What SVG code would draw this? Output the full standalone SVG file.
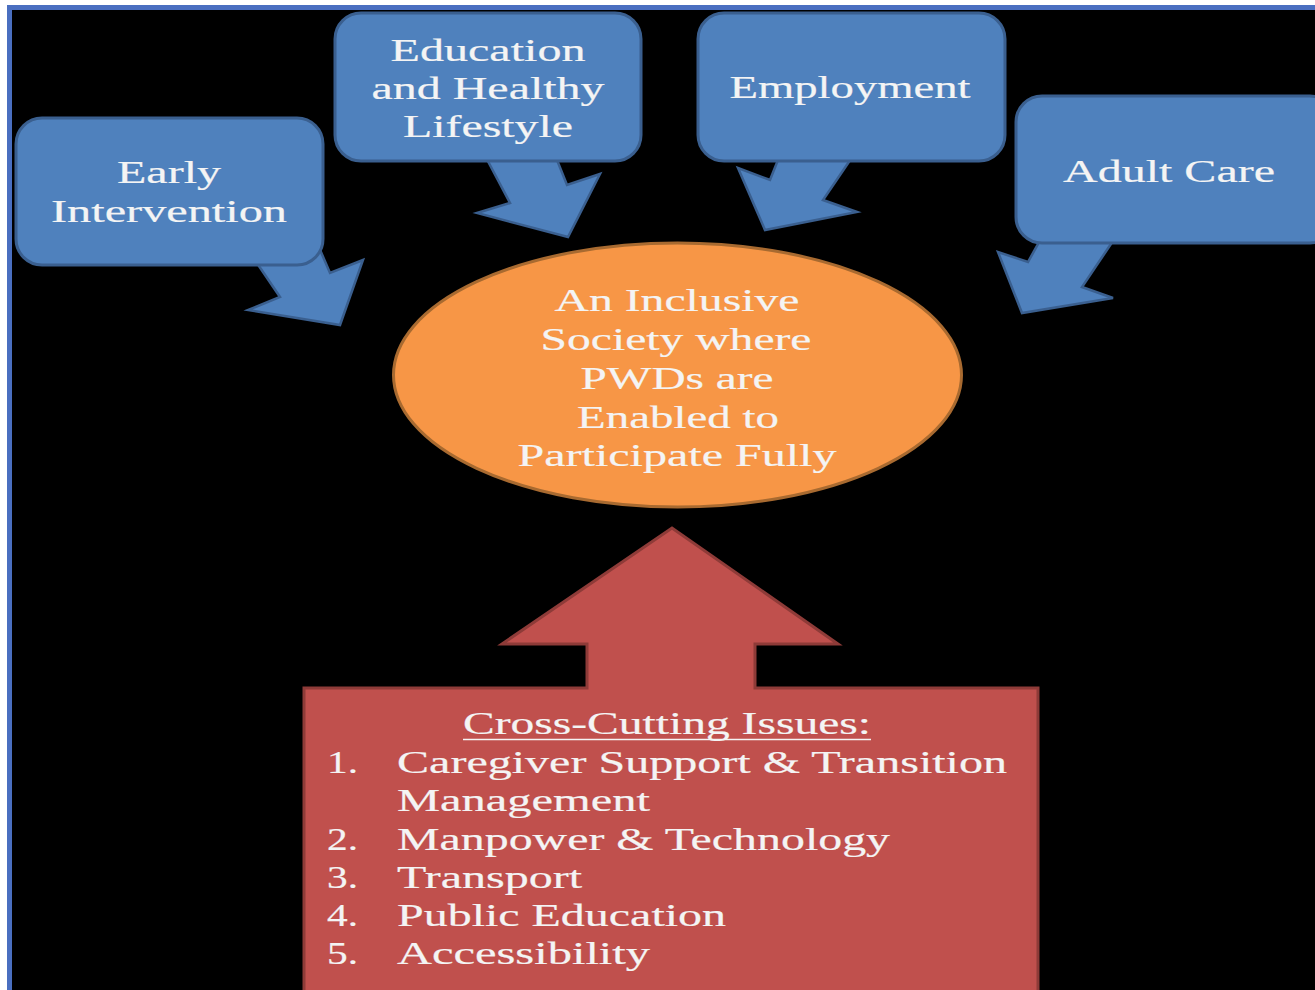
<svg xmlns="http://www.w3.org/2000/svg" width="1315" height="990" viewBox="0 0 1315 990">
<style>
.box{fill:#4F81BD;stroke:#3A5F8F;stroke-width:3}
.arr{fill:#4F81BD;stroke:#3A5F8F;stroke-width:2.5;stroke-linejoin:miter}
.t{font-family:"Liberation Serif","Times New Roman",serif;font-size:31px;fill:#F4F4F4;stroke:#F4F4F4;stroke-width:0.2}
.c{text-anchor:middle}
</style>
<rect x="0" y="0" width="1315" height="990" fill="#FFFFFF"/>
<rect x="7" y="5" width="1308" height="985" fill="#000000"/>
<path d="M9.5 990 V7.5 H1315" fill="none" stroke="#4A6FC0" stroke-width="5"/>
<g id="connectors">
<polygon class="arr" points="248,250 280,297 248,310 340,325 363,260 330,273 318,245"/>
<polygon class="arr" points="482,150 510,203 477,213 568,237 600,174 567,185 553,150"/>
<polygon class="arr" points="782,150 770,180 738,168 765,230 857,212 823,200 857,150"/>
<polygon class="arr" points="1043,235 1028,262 998,252 1022,313 1113,298 1082,287 1117,235"/>
</g>
<g id="early-intervention">
<rect class="box" x="16" y="118" width="307" height="147" rx="26"/>
<text class="t c" x="169" y="183" textLength="104" lengthAdjust="spacingAndGlyphs">Early</text>
<text class="t c" x="169" y="222" textLength="236" lengthAdjust="spacingAndGlyphs">Intervention</text>
</g>
<g id="education">
<rect class="box" x="335" y="13" width="306" height="148" rx="26"/>
<text class="t c" x="488" y="61" textLength="195" lengthAdjust="spacingAndGlyphs">Education</text>
<text class="t c" x="488" y="99" textLength="233" lengthAdjust="spacingAndGlyphs">and Healthy</text>
<text class="t c" x="488" y="137" textLength="170" lengthAdjust="spacingAndGlyphs">Lifestyle</text>
</g>
<g id="employment">
<rect class="box" x="698" y="13" width="307" height="148" rx="26"/>
<text class="t c" x="850" y="98" textLength="241" lengthAdjust="spacingAndGlyphs">Employment</text>
</g>
<g id="adult-care">
<rect class="box" x="1016" y="96" width="320" height="147" rx="26"/>
<text class="t c" x="1169" y="182" textLength="212" lengthAdjust="spacingAndGlyphs">Adult Care</text>
</g>
<g id="inclusive-society">
<ellipse cx="677.5" cy="375" rx="284" ry="132" fill="#F79646" stroke="#A86A30" stroke-width="3"/>
<text class="t c" x="677" y="311" textLength="245" lengthAdjust="spacingAndGlyphs">An Inclusive</text>
<text class="t c" x="676" y="350" textLength="271" lengthAdjust="spacingAndGlyphs">Society where</text>
<text class="t c" x="677" y="389" textLength="193" lengthAdjust="spacingAndGlyphs">PWDs are</text>
<text class="t c" x="678" y="428" textLength="202" lengthAdjust="spacingAndGlyphs">Enabled to</text>
<text class="t c" x="677" y="466" textLength="319" lengthAdjust="spacingAndGlyphs">Participate Fully</text>
</g>
<g id="cross-cutting-issues">
<polygon points="304,688 587,688 587,644 502,644 672,528 838,644 755,644 755,688 1038,688 1038,995 304,995" fill="#C0504D" stroke="#8E3B38" stroke-width="3"/>
<text class="t c" x="667" y="734" textLength="408" lengthAdjust="spacingAndGlyphs">Cross-Cutting Issues:</text>
<line x1="463" y1="739.5" x2="871" y2="739.5" stroke="#F4F4F4" stroke-width="1.6"/>
<text class="t" x="327" y="773" textLength="31" lengthAdjust="spacingAndGlyphs">1.</text>
<text class="t" x="397" y="773" textLength="610" lengthAdjust="spacingAndGlyphs">Caregiver Support &amp; Transition</text>
<text class="t" x="397" y="811" textLength="253" lengthAdjust="spacingAndGlyphs">Management</text>
<text class="t" x="327" y="850" textLength="31" lengthAdjust="spacingAndGlyphs">2.</text>
<text class="t" x="397" y="850" textLength="493" lengthAdjust="spacingAndGlyphs">Manpower &amp; Technology</text>
<text class="t" x="327" y="888" textLength="31" lengthAdjust="spacingAndGlyphs">3.</text>
<text class="t" x="397" y="888" textLength="185" lengthAdjust="spacingAndGlyphs">Transport</text>
<text class="t" x="327" y="926" textLength="31" lengthAdjust="spacingAndGlyphs">4.</text>
<text class="t" x="397" y="926" textLength="329" lengthAdjust="spacingAndGlyphs">Public Education</text>
<text class="t" x="327" y="964" textLength="31" lengthAdjust="spacingAndGlyphs">5.</text>
<text class="t" x="397" y="964" textLength="253" lengthAdjust="spacingAndGlyphs">Accessibility</text>
</g>
</svg>
